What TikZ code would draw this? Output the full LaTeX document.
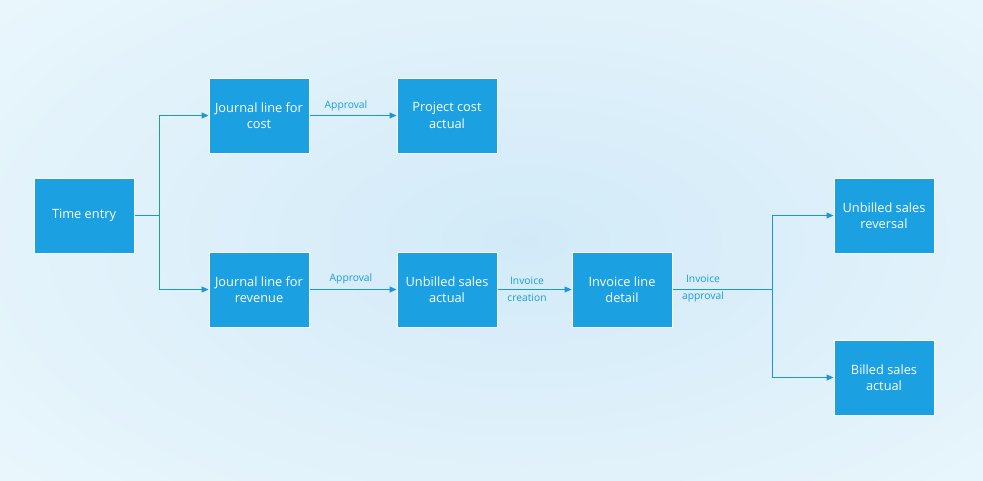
\documentclass[tikz,border=0pt]{standalone}
\usepackage{fontspec}
\setmainfont{Open Sans}
\usetikzlibrary{arrows.meta}
\definecolor{boxblue}{HTML}{1BA1E2}
\definecolor{lineblue}{HTML}{1C95D8}
\definecolor{labelblue}{HTML}{1B9BDC}
\definecolor{bgin}{HTML}{D2EAF8}
\definecolor{bgout}{HTML}{E9F6FC}
\tikzset{
  stepbox/.style={draw=white, line width=1pt, fill=boxblue, text=white,
    minimum width=100pt, minimum height=75pt, inner sep=0pt,
    align=center, font=\fontsize{12.8}{16.5}\selectfont},
  conn/.style={draw=lineblue, line width=1pt, -{Triangle[length=7pt,width=6pt]}},
  plain/.style={draw=lineblue, line width=1pt},
  lbl/.style={text=labelblue, inner sep=0pt, align=center, font=\fontsize{10.3}{17}\selectfont}
}
\begin{document}
\begin{tikzpicture}[x=1pt,y=-1pt]
\useasboundingbox (0,0) rectangle (983,480);
\shade[inner color=bgin, outer color=bgout] (-150,-120) rectangle (1200,600);
\node[stepbox] (te) at (84,215.5) {Time entry};
\node[stepbox] (jc) at (259,115.5) {Journal line for\\cost};
\node[stepbox] (jr) at (259,289.5) {Journal line for\\revenue};
\node[stepbox] (pc) at (447,115.5) {Project cost\\actual};
\node[stepbox] (ua) at (447,289.5) {Unbilled sales\\actual};
\node[stepbox] (il) at (622,289.5) {Invoice line\\detail};
\node[stepbox] (ur) at (884,215.5) {Unbilled sales\\reversal};
\node[stepbox] (ba) at (884,377.5) {Billed sales\\actual};
\coordinate (s1) at (159,215.5);
\coordinate (s2) at (772,289.5);
\draw[plain] (te.east) -- (s1);
\draw[conn] (s1) |- (jc.west);
\draw[conn] (s1) |- (jr.west);
\draw[conn] (jc) -- (pc);
\draw[conn] (jr) -- (ua);
\draw[conn] (ua) -- (il);
\draw[plain] (il.east) -- (s2);
\draw[conn] (s2) |- (ur.west);
\draw[conn] (s2) |- (ba.west);
\node[lbl] (l1) at (346,105.5) {Approval};
\node[lbl] (l2) at (351,278.5) {Approval};
\node[lbl] (l3) at (527,289.5) {Invoice\\creation};
\node[lbl] (l4) at (703,288.5) {Invoice\\approval};
\end{tikzpicture}
\end{document}
